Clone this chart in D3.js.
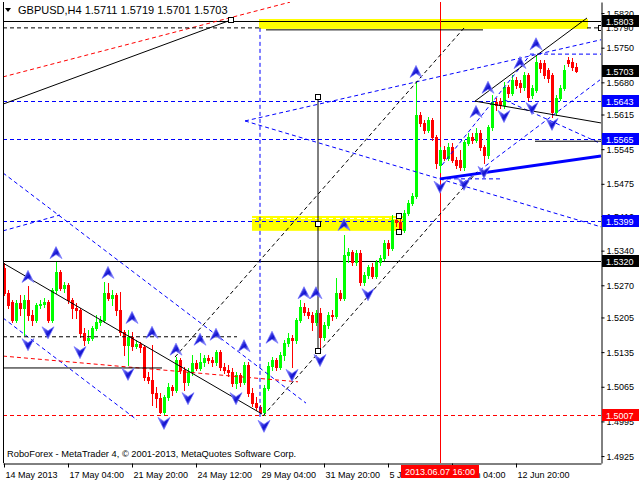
<!DOCTYPE html>
<html><head><meta charset="utf-8">
<script src="https://cdn.jsdelivr.net/npm/d3@7"></script>
<style>
body{margin:0;background:#fff}
svg{display:block}
text{font-family:"Liberation Sans",Arial,sans-serif;font-size:9px}
</style>
</head><body>
<svg id="c" width="640" height="480"></svg>
<script>
// ---------- DATA ----------
const symbol = "GBPUSD", timeframe = "H4";
const opens = [1.5305,1.5254,1.5236,1.5200,1.5234,1.5224,1.5240,1.5210,1.5200,1.5230,1.5232,1.5236,1.5200,1.5260,1.5297,1.5265,1.5271,1.5240,1.5224,1.5220,
1.5174,1.5160,1.5164,1.5184,1.5196,1.5200,1.5254,1.5244,1.5250,1.5220,1.5176,1.5149,1.5166,1.5147,1.5151,1.5145,1.5085,1.5079,1.5052,1.5042,
1.5014,1.5044,1.5065,1.5059,1.5119,1.5099,1.5075,1.5095,1.5113,1.5103,1.5115,1.5123,1.5119,1.5115,1.5135,1.5105,1.5099,1.5095,1.5073,1.5089,
1.5075,1.5109,1.5052,1.5032,1.5024,1.5014,1.5063,1.5107,1.5119,1.5105,1.5129,1.5153,1.5164,1.5160,1.5200,1.5226,1.5216,1.5210,1.5196,1.5214,
1.5166,1.5190,1.5210,1.5208,1.5254,1.5244,1.5331,1.5337,1.5317,1.5335,1.5277,1.5291,1.5307,1.5289,1.5317,1.5325,1.5355,1.5345,1.5402,1.5398,
1.5382,1.5416,1.5436,1.5450,1.5614,1.5598,1.5584,1.5604,1.5570,1.5513,1.5543,1.5527,1.5549,1.5523,1.5523,1.5509,1.5557,1.5570,1.5563,1.5578,
1.5549,1.5533,1.5590,1.5640,1.5642,1.5634,1.5671,1.5658,1.5685,1.5679,1.5671,1.5695,1.5654,1.5665,1.5719,1.5719,1.5705,1.5695,1.5620,1.5648,
1.5669,1.5725,1.5721,1.5711];
const closes = [1.5254,1.5230,1.5200,1.5234,1.5224,1.5240,1.5210,1.5200,1.5230,1.5232,1.5236,1.5200,1.5260,1.5297,1.5265,1.5271,1.5240,1.5224,1.5220,1.5174,
1.5160,1.5164,1.5184,1.5196,1.5200,1.5254,1.5244,1.5250,1.5220,1.5176,1.5149,1.5166,1.5147,1.5151,1.5145,1.5085,1.5079,1.5052,1.5042,1.5014,
1.5044,1.5065,1.5059,1.5119,1.5099,1.5075,1.5095,1.5113,1.5103,1.5115,1.5123,1.5119,1.5115,1.5135,1.5105,1.5099,1.5095,1.5073,1.5089,1.5075,
1.5109,1.5052,1.5032,1.5024,1.5014,1.5063,1.5107,1.5119,1.5105,1.5129,1.5153,1.5164,1.5160,1.5200,1.5226,1.5216,1.5210,1.5196,1.5214,1.5166,
1.5190,1.5210,1.5208,1.5254,1.5244,1.5331,1.5337,1.5317,1.5335,1.5277,1.5291,1.5307,1.5289,1.5317,1.5325,1.5355,1.5345,1.5402,1.5398,1.5382,
1.5416,1.5436,1.5450,1.5614,1.5598,1.5584,1.5604,1.5570,1.5517,1.5543,1.5527,1.5549,1.5523,1.5513,1.5509,1.5559,1.5570,1.5563,1.5578,1.5549,
1.5533,1.5590,1.5640,1.5634,1.5634,1.5671,1.5658,1.5685,1.5675,1.5671,1.5695,1.5650,1.5669,1.5721,1.5709,1.5695,1.5689,1.5620,1.5648,1.5669,
1.5705,1.5719,1.5711,1.5703];
const highs = [1.5315,1.5260,1.5240,1.5240,1.5250,1.5250,1.5269,1.5220,1.5234,1.5240,1.5244,1.5240,1.5264,1.5317,1.5301,1.5277,1.5275,1.5244,1.5234,1.5224,
1.5184,1.5180,1.5188,1.5210,1.5208,1.5277,1.5275,1.5260,1.5254,1.5256,1.5180,1.5180,1.5176,1.5160,1.5155,1.5149,1.5095,1.5149,1.5065,1.5052,
1.5048,1.5073,1.5069,1.5125,1.5123,1.5105,1.5103,1.5129,1.5119,1.5133,1.5129,1.5129,1.5125,1.5139,1.5139,1.5113,1.5109,1.5103,1.5095,1.5093,
1.5115,1.5115,1.5063,1.5044,1.5028,1.5069,1.5115,1.5125,1.5123,1.5135,1.5160,1.5174,1.5170,1.5204,1.5240,1.5234,1.5224,1.5216,1.5220,1.5224,
1.5196,1.5216,1.5220,1.5285,1.5260,1.5372,1.5345,1.5341,1.5341,1.5341,1.5297,1.5311,1.5315,1.5321,1.5331,1.5362,1.5362,1.5412,1.5410,1.5412,
1.5422,1.5442,1.5456,1.5681,1.5620,1.5604,1.5610,1.5608,1.5574,1.5549,1.5551,1.5557,1.5557,1.5529,1.5543,1.5563,1.5578,1.5578,1.5588,1.5584,
1.5553,1.5594,1.5654,1.5648,1.5648,1.5681,1.5675,1.5695,1.5691,1.5685,1.5701,1.5699,1.5675,1.5735,1.5725,1.5725,1.5709,1.5699,1.5654,1.5675,
1.5715,1.5731,1.5729,1.5719];
const lows = [1.5250,1.5224,1.5196,1.5196,1.5210,1.5170,1.5200,1.5190,1.5196,1.5224,1.5226,1.5196,1.5196,1.5254,1.5260,1.5256,1.5234,1.5204,1.5204,1.5166,
1.5149,1.5153,1.5160,1.5180,1.5190,1.5196,1.5240,1.5230,1.5210,1.5170,1.5129,1.5109,1.5139,1.5143,1.5135,1.5079,1.5073,1.5028,1.5024,1.5012,
1.5010,1.5038,1.5048,1.5054,1.5093,1.5059,1.5069,1.5089,1.5099,1.5099,1.5107,1.5113,1.5107,1.5109,1.5099,1.5093,1.5087,1.5067,1.5063,1.5067,
1.5071,1.5046,1.5026,1.5018,1.5012,1.5007,1.5059,1.5099,1.5099,1.5101,1.5119,1.5147,1.5105,1.5153,1.5196,1.5210,1.5204,1.5180,1.5190,1.5139,
1.5160,1.5184,1.5200,1.5204,1.5240,1.5240,1.5317,1.5311,1.5311,1.5271,1.5271,1.5285,1.5285,1.5285,1.5311,1.5321,1.5331,1.5341,1.5390,1.5378,
1.5378,1.5412,1.5432,1.5446,1.5592,1.5578,1.5580,1.5563,1.5507,1.5499,1.5523,1.5523,1.5519,1.5507,1.5503,1.5503,1.5553,1.5557,1.5559,1.5543,
1.5517,1.5527,1.5584,1.5624,1.5628,1.5628,1.5650,1.5654,1.5669,1.5660,1.5665,1.5644,1.5648,1.5660,1.5701,1.5689,1.5681,1.5610,1.5614,1.5644,
1.5665,1.5713,1.5705,1.5701];

const xTickBars = [0,16,32,48,64,80,96,112,128];
const xTickLabels = ["14 May 2013","17 May 04:00","21 May 20:00","24 May 12:00","29 May 04:00","31 May 20:00","5 Jun 12:00","10 Jun 04:00","12 Jun 20:00"];
const yTicks = [1.5820,1.5750,1.5680,1.5615,1.5545,1.5475,1.5410,1.5340,1.5270,1.5205,1.5135,1.5065,1.4995,1.4925];
const cursorBar = 109, cursorLabel = "2013.06.07 16:00";

const levelsBlackSolid = [1.5803, 1.5320];
const levelsBlueDashed = [1.5643, 1.5565, 1.5399];
const levelsRedDashed = [1.5007];
const tagsBlack = [1.5803, 1.5703, 1.5320];
const tagsBlue = [1.5643, 1.5565, 1.5399];
const tagsRed = [1.5007];
const hiddenLabel = [1.5790];

// segments: [bar1, price1, bar2, price2]
const segBlackSolid = [[-0.25,1.5636,56.75,1.5806],[-0.25,1.5315,64.5,1.5010],[78.5,1.5650,78.5,1.5137],
  [117.75,1.5642,145.75,1.5810],[117.75,1.5642,149.25,1.5598],[132.75,1.5561,149.25,1.5561],
  [-0.25,1.5103,39.5,1.5103],[65.5,1.5786,119.75,1.5786]];
const segBlackDashed = [[-0.25,1.5790,64,1.5790],[-0.25,1.5166,58.25,1.5166],
  [42.75,1.5125,115.25,1.5792],[64.75,1.5006,118.25,1.5499],[145.75,1.5790,149.25,1.5790]];
const segRedDashed = [[-0.25,1.5127,73.5,1.5075],[-0.25,1.5691,71.5,1.5842]];
const segBlueDashed = [[64,1.5790,64,1.4998],[-0.25,1.5497,75.5,1.5032],[-0.25,1.5204,33.25,1.4998],
  [-0.25,1.5380,14,1.5412],[60.25,1.5602,149.25,1.5766],[60.25,1.5602,149.25,1.5388],
  [131.5,1.5737,149.25,1.5737],[109,1.5485,124,1.5485],
  [109.5,1.5513,131.5,1.5735],[114.75,1.5477,149,1.5685],[125.25,1.5644,149,1.5557]];
const segBlueThick = [[109,1.5485,149.25,1.5531]];
const rectsYellow = [[63.75,146,1.5808,1.5788],[62,100.5,1.5410,1.5380]];
const handles = [[56.75,1.5806],[78.5,1.5650],[78.5,1.5394],[78.5,1.5137],[98.75,1.5410],[98.75,1.5378],[149.25,1.5790]];

const upArrowBars = [6,13,26,32,37,43,49,53,60,67,75,78,85,103,118,121,129,133];
const upArrowPrices = [1.5287,1.5335,1.5295,1.5204,1.5174,1.5140,1.5160,1.5170,1.5147,1.5164,1.5254,1.5254,1.5392,1.5701,1.5620,1.5669,1.5719,1.5757];
const downArrowBars = [6,11,19,31,40,46,58,65,72,79,91,109,115,120,125,132,137];
const downArrowPrices = [1.5151,1.5175,1.5135,1.5091,1.4992,1.5042,1.5042,1.4986,1.5089,1.5119,1.5252,1.5469,1.5475,1.5499,1.5612,1.5628,1.5596];

const copyright = "RoboForex - MetaTrader 4, © 2001-2013, MetaQuotes Software Corp.";

// ---------- DRAW ----------
const svg = d3.select("#c");
const L = 3, R = 601, T = 2, B = 463;
const x = d3.scaleLinear().domain([-0.25, 149.25]).range([L, R]);
const y = d3.scaleLinear().domain([1.49110, 1.58423]).range([B, T]);
const sx = v => Math.round(x(v)) + 0.5;
const sy = v => Math.round(y(v)) + 0.5;

svg.append("rect").attr("width",640).attr("height",480).attr("fill","#fff");
svg.append("clipPath").attr("id","pc").append("rect").attr("x",L).attr("y",T).attr("width",R-L).attr("height",B-T);
const plot = svg.append("g").attr("clip-path","url(#pc)");

// yellow rectangles (background objects)
plot.selectAll("rect.yr").data(rectsYellow).join("rect").attr("class","yr")
  .attr("x",d=>x(d[0])).attr("width",d=>x(d[1])-x(d[0]))
  .attr("y",d=>y(d[2])).attr("height",d=>y(d[3])-y(d[2])).attr("fill","#ffff00");
plot.selectAll("line.yw").data(rectsYellow.slice(1)).join("line").attr("class","yw")
  .attr("x1",d=>x(d[0])).attr("x2",d=>x(d[1])).attr("y1",d=>sy(d[2])+2).attr("y2",d=>sy(d[2])+2)
  .attr("stroke","#fff").attr("stroke-dasharray","4,3");

// horizontal levels
function hlines(arr, color, dash){
  plot.selectAll(null).data(arr).join("line")
    .attr("x1",L).attr("x2",R).attr("y1",d=>sy(d)).attr("y2",d=>sy(d))
    .attr("stroke",color).attr("stroke-width",1).attr("stroke-dasharray",dash||null)
    .attr("shape-rendering","crispEdges");
}
hlines(levelsBlueDashed,"#0000ff","4,3");
hlines(levelsRedDashed,"#ff0000","4,3");
hlines(levelsBlackSolid,"#000");

// cursor vertical line
plot.append("line").attr("x1",sx(cursorBar)).attr("x2",sx(cursorBar)).attr("y1",T).attr("y2",B)
  .attr("stroke","#ff0000").attr("shape-rendering","crispEdges");

// candles
const idx = d3.range(opens.length);
const col = i => closes[i] >= opens[i] ? "#00ff00" : "#ff0000";
plot.selectAll("line.wick").data(idx).join("line").attr("class","wick")
  .attr("x1",i=>sx(i)).attr("x2",i=>sx(i))
  .attr("y1",i=>Math.round(y(highs[i]))).attr("y2",i=>Math.round(y(lows[i]))+1)
  .attr("stroke",col).attr("shape-rendering","crispEdges");
plot.selectAll("rect.body").data(idx).join("rect").attr("class","body")
  .attr("x",i=>Math.round(x(i))-1).attr("width",3)
  .attr("y",i=>Math.round(y(Math.max(opens[i],closes[i]))))
  .attr("height",i=>Math.max(1,Math.round(y(Math.min(opens[i],closes[i])))-Math.round(y(Math.max(opens[i],closes[i])))+1))
  .attr("fill",col).attr("shape-rendering","crispEdges");

// segments
function segs(arr,color,dash,w){
  plot.selectAll(null).data(arr).join("line")
    .attr("x1",d=>x(d[0])).attr("y1",d=>y(d[1])).attr("x2",d=>x(d[2])).attr("y2",d=>y(d[3]))
    .attr("stroke",color).attr("stroke-width",w||1).attr("stroke-dasharray",dash||null);
}
segs(segBlueDashed,"#0000ff","4,3");
segs(segRedDashed,"#ff0000","4,3");
segs(segBlackDashed,"#000","4,3");
segs(segBlackSolid,"#000");
segs(segBlueThick,"#0000ff",null,3);

// handles
plot.selectAll("rect.h").data(handles).join("rect").attr("class","h")
  .attr("x",d=>Math.round(x(d[0]))-2.5).attr("y",d=>Math.round(y(d[1]))-2.5)
  .attr("width",5).attr("height",5).attr("fill","#fff").attr("stroke","#000");

// fractal arrows
const defs = svg.append("defs");
const gu = defs.append("linearGradient").attr("id","gu").attr("x1",0).attr("y1",0).attr("x2",1).attr("y2",1);
gu.append("stop").attr("offset","0%").attr("stop-color","#9090ff");
gu.append("stop").attr("offset","55%").attr("stop-color","#1010d0");
gu.append("stop").attr("offset","100%").attr("stop-color","#c0c0ff");
plot.selectAll("path.up").data(upArrowBars).join("path").attr("class","up")
  .attr("transform",(d,i)=>`translate(${x(d)},${y(upArrowPrices[i])})`)
  .attr("d","M0,-6.5L6,5.5L0,1.5L-6,5.5Z").attr("fill","url(#gu)").attr("stroke","#7070ff").attr("stroke-width",0.7);
plot.selectAll("path.dn").data(downArrowBars).join("path").attr("class","dn")
  .attr("transform",(d,i)=>`translate(${x(d)},${y(downArrowPrices[i])})`)
  .attr("d","M0,6.5L6,-5.5L0,-1.5L-6,-5.5Z").attr("fill","url(#gu)").attr("stroke","#7070ff").attr("stroke-width",0.7);

// frame
svg.append("line").attr("x1",L+0.5).attr("x2",L+0.5).attr("y1",T).attr("y2",B).attr("stroke","#000").attr("shape-rendering","crispEdges");

// axes
const yAxis = d3.axisRight(y).tickValues(yTicks).tickFormat(d3.format(".4f")).tickSize(3).tickSizeOuter(0);
const gy = svg.append("g").attr("transform",`translate(${R+0.5},0)`).call(yAxis);
gy.select(".domain").attr("stroke","#000");
gy.selectAll(".tick text").attr("x",5).attr("dy","0.35em").attr("fill","#000").style("font-size","9px").style("font-family","Liberation Sans, Arial, sans-serif");
const xAxis = d3.axisBottom(x).tickValues(xTickBars).tickFormat((d,i)=>xTickLabels[i]).tickSize(4).tickSizeOuter(0);
const gx = svg.append("g").attr("transform",`translate(0,${B+0.5})`).call(xAxis);
gx.select(".domain").attr("stroke","#000");
gx.selectAll(".tick text").attr("text-anchor","start").attr("x",1).attr("y",8).attr("dy","0.71em").attr("fill","#000").style("font-size","9px").style("font-family","Liberation Sans, Arial, sans-serif");

// partially covered label (as in the reference)
svg.selectAll(null).data(hiddenLabel).join("text").attr("x",R+5).attr("y",d=>y(d)+3).text(d=>d.toFixed(4));

// price tags
function tags(arr,color){
  const g = svg.selectAll(null).data(arr).join("g").attr("transform",d=>`translate(${R+1},${Math.round(y(d))})`);
  g.append("rect").attr("x",0).attr("y",-6).attr("width",37).attr("height",12).attr("fill",color);
  g.append("text").attr("x",4).attr("y",3.5).attr("fill","#fff").text(d=>d.toFixed(4));
}
tags(tagsBlue,"#0000ff");
tags(tagsBlack,"#000");
tags(tagsRed,"#ff0000");

// cursor time tag
const ct = svg.append("g").attr("transform",`translate(${Math.round(x(cursorBar))},${B+2})`);
ct.append("rect").attr("x",-39).attr("y",0).attr("width",78).attr("height",13).attr("fill","#ff0000");
ct.append("text").attr("x",0).attr("y",10).attr("text-anchor","middle").attr("fill","#fff").text(cursorLabel);

// title
const n = opens.length - 1;
svg.append("path").attr("d","M5,8L11,8L8,12Z").attr("fill","#000");
svg.append("text").attr("x",18).attr("y",14).attr("fill","#000").style("font-size","11px")
  .text(`${symbol},${timeframe}  ${opens[n].toFixed(4)} ${highs[n].toFixed(4)} ${lows[n].toFixed(4)} ${closes[n].toFixed(4)}`);
svg.append("text").attr("x",7).attr("y",457).attr("fill","#000").style("font-size","9.3px").text(copyright);
</script>
</body></html>
